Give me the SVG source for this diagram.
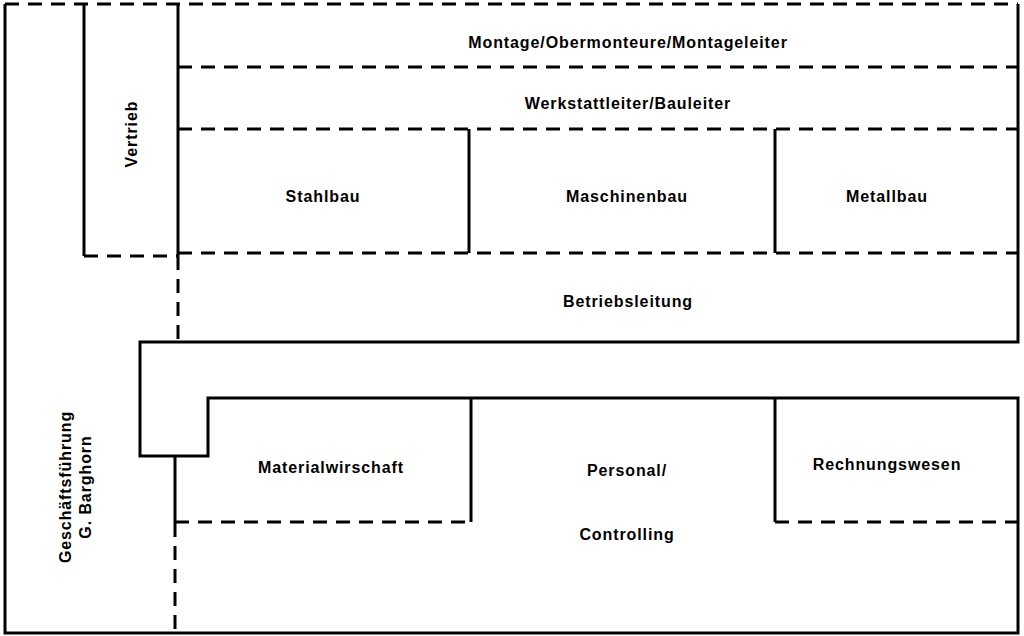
<svg xmlns="http://www.w3.org/2000/svg" width="1024" height="636" viewBox="0 0 1024 636">
<style>
.s{stroke:#000;stroke-width:3;fill:none}
.d{stroke:#000;stroke-width:3;fill:none;stroke-dasharray:14 9}
text{font-family:"Liberation Sans",Arial,sans-serif;font-weight:bold;font-size:16px;letter-spacing:0.9px;text-anchor:middle;fill:#000}
</style>
<rect width="1024" height="636" fill="#fff"/>
<g id="connectors">
<path class="d" d="M5 4H1018M178 67H1018M178 129H1018M178 253H1018M84 256H178M178 256V342M175 522H471M775 522H1018M175 523V633"/>
<path class="s" d="M5 4V633H1018V398H208V456H140V342H1018V4M84 4V256M178 4V256M469 129V253M775 129V253M175 456V523M471 398V522M775 398V522"/>
</g>
<g id="n1"><text x="628" y="48">Montage/Obermonteure/Montageleiter</text></g>
<g id="n2"><text x="628" y="109">Werkstattleiter/Bauleiter</text></g>
<g id="n3"><text x="323" y="202">Stahlbau</text></g>
<g id="n4"><text x="627" y="202">Maschinenbau</text></g>
<g id="n5"><text x="887" y="202">Metallbau</text></g>
<g id="n6"><text x="628" y="307">Betriebsleitung</text></g>
<g id="n7"><text transform="translate(137 134) rotate(-90)">Vertrieb</text></g>
<g id="n8"><text transform="translate(71 487) rotate(-90)">Geschäftsführung</text><text transform="translate(91 487) rotate(-90)">G. Barghorn</text></g>
<g id="n9"><text x="331" y="473">Materialwirschaft</text></g>
<g id="n10"><text x="627" y="476">Personal/</text><text x="627" y="540">Controlling</text></g>
<g id="n11"><text x="887" y="470">Rechnungswesen</text></g>
</svg>
